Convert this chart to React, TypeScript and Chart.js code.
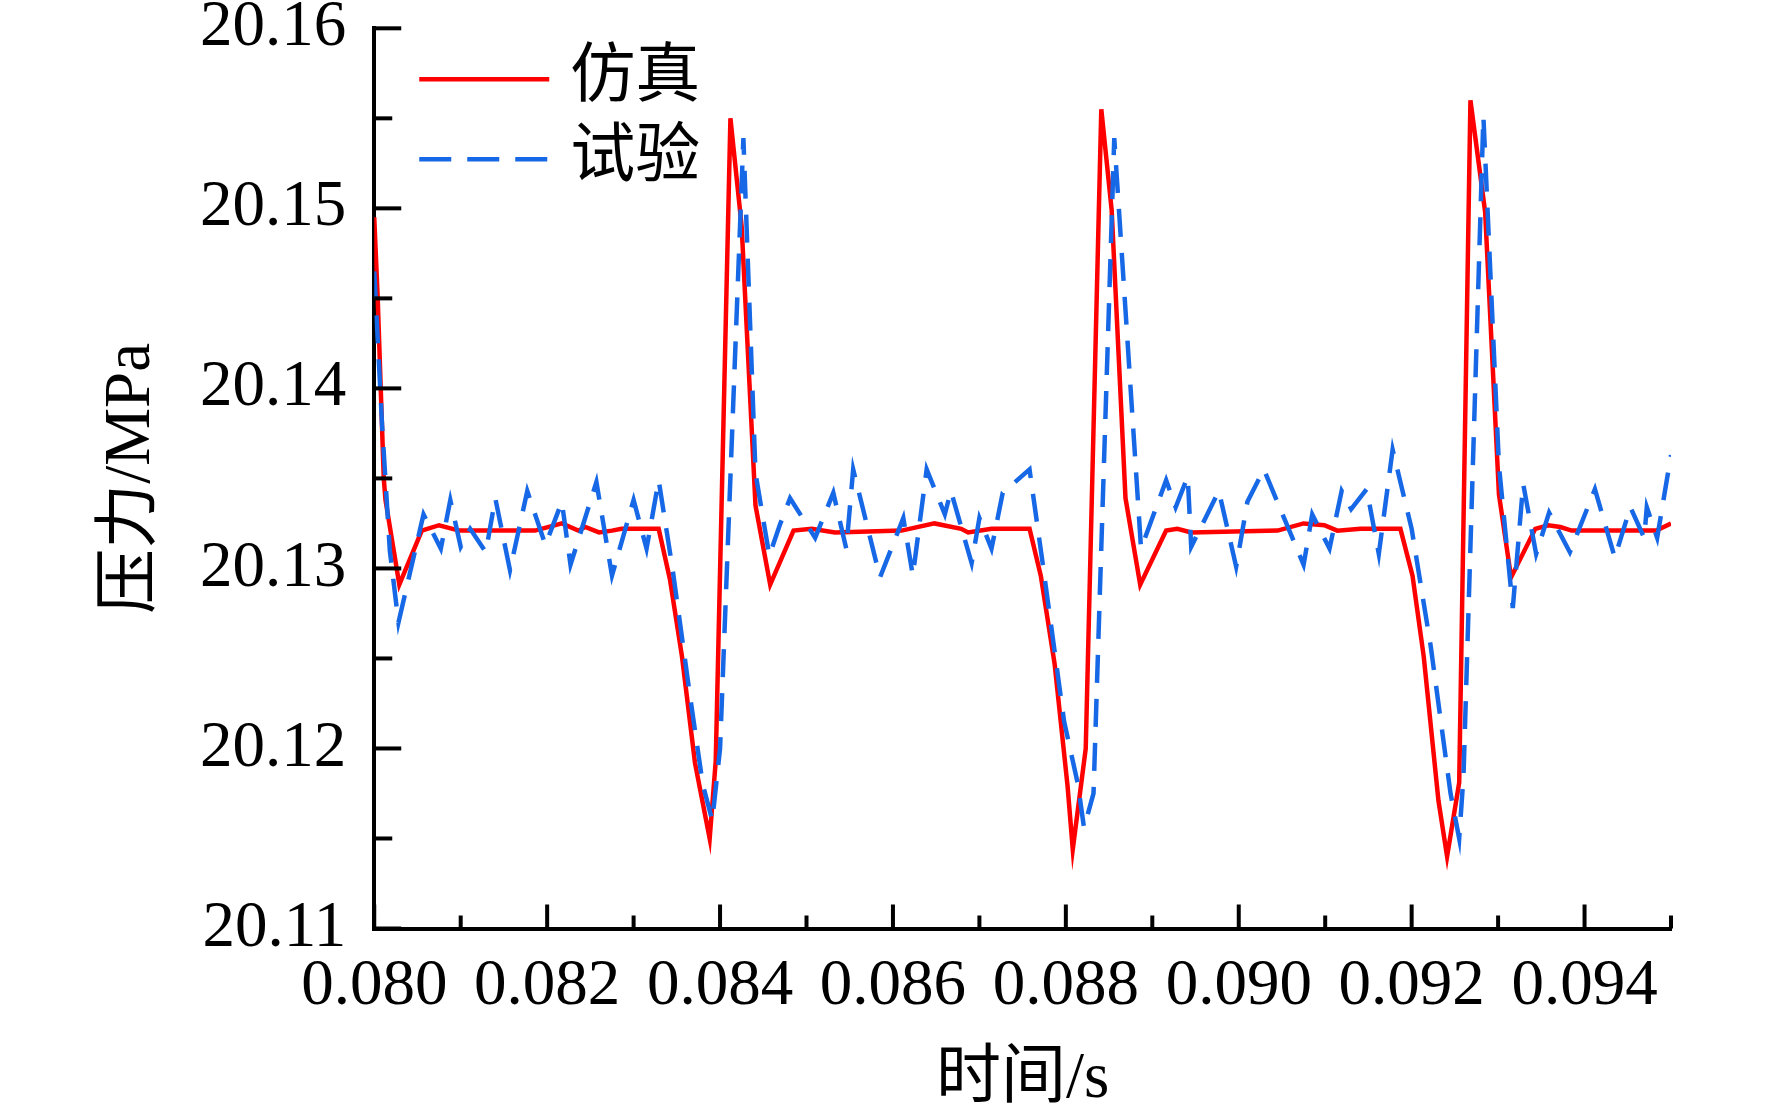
import { useEffect, useRef } from 'react';
import { Chart, registerables } from 'chart.js';

Chart.register(...registerables);

// 仿真 (simulation) – time in s, pressure in MPa
const simT = [
  0.08, 0.08004, 0.08011, 0.08013, 0.08029, 0.08055, 0.08075, 0.08098, 0.08186, 0.08217,
  0.08236, 0.08244, 0.0826, 0.08275, 0.08286, 0.08329, 0.08342, 0.08356, 0.08371, 0.08388,
  0.08395, 0.08412, 0.08425, 0.08441, 0.08458, 0.08485, 0.08506, 0.08533, 0.0861, 0.08648,
  0.08679, 0.08687, 0.08714, 0.08758, 0.08771, 0.08787, 0.08802, 0.08808, 0.08823, 0.08841,
  0.08853, 0.08869, 0.08886, 0.08916, 0.08929, 0.08945, 0.09045, 0.09075, 0.09099, 0.09114,
  0.09141, 0.09187, 0.09201, 0.09214, 0.09231, 0.09241, 0.09255, 0.09268, 0.09285, 0.09301,
  0.09315, 0.09343, 0.09358, 0.09372, 0.09385, 0.09483, 0.095,
];
const simP = [
  20.1495, 20.145, 20.135, 20.1338, 20.1291, 20.1321, 20.1324, 20.1321, 20.1321, 20.1325,
  20.1321, 20.1323, 20.132, 20.1321, 20.1322, 20.1322, 20.1294, 20.1251, 20.1192, 20.115,
  20.1193, 20.155, 20.149, 20.1335, 20.1291, 20.1321, 20.1322, 20.132, 20.1321, 20.1325,
  20.1322, 20.132, 20.1322, 20.1322, 20.1296, 20.1247, 20.1179, 20.1144, 20.12, 20.1555,
  20.1499, 20.1339, 20.1291, 20.1321, 20.1322, 20.132, 20.1321, 20.1325, 20.1324, 20.1321,
  20.1322, 20.1322, 20.1296, 20.1251, 20.1171, 20.114, 20.1181, 20.156, 20.1498, 20.1341,
  20.1295, 20.1322, 20.1324, 20.1323, 20.1321, 20.1321, 20.1325,
];

// 试验 (test)
const expT = [
  0.08, 0.08009, 0.08018, 0.08028, 0.08057, 0.08077, 0.08088, 0.081, 0.08111, 0.08129,
  0.0814, 0.08157, 0.08177, 0.08198, 0.08217, 0.08227, 0.08257, 0.08275, 0.083, 0.08315,
  0.08329, 0.08345, 0.08365, 0.0838, 0.08391, 0.084, 0.08427, 0.08441, 0.08457, 0.08469,
  0.08481, 0.0851, 0.08531, 0.08546, 0.08554, 0.08585, 0.08612, 0.08623, 0.08639, 0.0866,
  0.08667, 0.08691, 0.087, 0.08714, 0.08727, 0.08758, 0.08774, 0.08798, 0.08814, 0.08821,
  0.08832, 0.08856, 0.08887, 0.08916, 0.08927, 0.08941, 0.08945, 0.08977, 0.08997, 0.0901,
  0.09029, 0.09075, 0.09085, 0.09105, 0.09119, 0.0913, 0.09148, 0.09162, 0.09178, 0.092,
  0.09222, 0.09245, 0.09255, 0.0926, 0.09283, 0.09301, 0.09317, 0.09329, 0.09344, 0.09359,
  0.09383, 0.09412, 0.09435, 0.09453, 0.09469, 0.09472, 0.09484, 0.095,
];
const expP = [
  20.1465, 20.138, 20.131, 20.127, 20.133, 20.1311, 20.1338, 20.1312, 20.1322, 20.1309,
  20.1339, 20.1299, 20.1343, 20.1313, 20.1337, 20.1302, 20.1348, 20.1296, 20.1338, 20.1311,
  20.1349, 20.13, 20.123, 20.118, 20.116, 20.12, 20.1539, 20.1353, 20.1307, 20.1324,
  20.1339, 20.1317, 20.1342, 20.1311, 20.1355, 20.1295, 20.1328, 20.1296, 20.1355, 20.133,
  20.1343, 20.1303, 20.1328, 20.1311, 20.1342, 20.1355, 20.13, 20.1215, 20.118, 20.1156,
  20.1175, 20.1539, 20.1311, 20.1349, 20.1334, 20.1351, 20.1312, 20.1343, 20.1301, 20.1337,
  20.1355, 20.1302, 20.133, 20.1311, 20.1343, 20.1333, 20.1344, 20.1308, 20.1366, 20.1322,
  20.1257, 20.1175, 20.115, 20.1185, 20.1551, 20.1357, 20.1278, 20.1347, 20.1308, 20.1331,
  20.1309, 20.1344, 20.1306, 20.1334, 20.1317, 20.1334, 20.1317, 20.1363,
];

const seriesNames = ['仿真', '试验'];
const xTitle = '时间/s';
const yTitle = '压力/MPa';

const FONT = "'Liberation Serif', 'Noto Sans CJK SC', serif";
const RED = '#ff0000';
const BLUE = '#1668e6';

// tick marks pointing into the plot, long on labelled values
const innerTicks = {
  id: 'innerTicks',
  afterDraw(chart: any) {
    const { ctx, chartArea, scales } = chart;
    ctx.save();
    ctx.strokeStyle = '#000';
    ctx.lineWidth = 4;
    scales.y.ticks.forEach((t: any) => {
      const major = Math.round(t.value * 1000) % 10 === 0;
      const y = scales.y.getPixelForValue(t.value);
      ctx.beginPath();
      ctx.moveTo(chartArea.left, y);
      ctx.lineTo(chartArea.left + (major ? 27 : 18), y);
      ctx.stroke();
    });
    scales.x.ticks.forEach((t: any) => {
      const major = Math.round(t.value * 1000) % 2 === 0;
      const x = scales.x.getPixelForValue(t.value);
      ctx.beginPath();
      ctx.moveTo(x, chartArea.bottom);
      ctx.lineTo(x, chartArea.bottom - (major ? 24 : 13));
      ctx.stroke();
    });
    ctx.restore();
  },
};

// legend with line samples in the upper left of the plot
const lineLegend = {
  id: 'lineLegend',
  afterDraw(chart: any) {
    const { ctx, chartArea } = chart;
    const rows = [
      { label: seriesNames[0], color: RED, dash: [] as number[], dy: 51 },
      { label: seriesNames[1], color: BLUE, dash: [32, 16], dy: 131 },
    ];
    ctx.save();
    rows.forEach((r) => {
      const y = chartArea.top + r.dy;
      const x0 = chartArea.left + 45;
      ctx.strokeStyle = r.color;
      ctx.lineWidth = 4.5;
      ctx.setLineDash(r.dash);
      ctx.beginPath();
      ctx.moveTo(x0, y);
      ctx.lineTo(x0 + 130, y);
      ctx.stroke();
      ctx.setLineDash([]);
      ctx.fillStyle = '#000';
      ctx.font = `65px ${FONT}`;
      ctx.textBaseline = 'middle';
      ctx.textAlign = 'left';
      ctx.fillText(r.label, x0 + 151, y);
    });
    ctx.restore();
  },
};

export default function App() {
  const canvasRef = useRef<HTMLCanvasElement | null>(null);

  useEffect(() => {
    if (!canvasRef.current) return;
    const ctx = canvasRef.current.getContext('2d');
    if (!ctx) return;

    const chart = new Chart(ctx, {
      type: 'line',
      data: {
        datasets: [
          {
            label: seriesNames[0],
            data: simT.map((t, i) => ({ x: t, y: simP[i] })),
            borderColor: RED,
            borderWidth: 4.5,
            pointRadius: 0,
            tension: 0,
            order: 1,
          },
          {
            label: seriesNames[1],
            data: expT.map((t, i) => ({ x: t, y: expP[i] })),
            borderColor: BLUE,
            borderWidth: 4.5,
            borderDash: [28, 16],
            pointRadius: 0,
            tension: 0,
            order: 0,
          },
        ],
      },
      options: {
        responsive: false,
        animation: false,
        devicePixelRatio: 1,
        layout: { padding: { left: 0, right: 101, top: 0, bottom: 0 } },
        plugins: {
          legend: { display: false },
          tooltip: { enabled: false },
        },
        scales: {
          x: {
            type: 'linear',
            min: 0.08,
            max: 0.095,
            grid: { display: true, drawOnChartArea: false, drawTicks: false },
            border: { display: true, color: '#000', width: 4 },
            ticks: {
              stepSize: 0.001,
              autoSkip: false,
              maxRotation: 0,
              padding: 19,
              color: '#000',
              font: { family: FONT, size: 65, lineHeight: 1.2 },
              callback: (v: any) => {
                const n = Math.round(Number(v) * 1000);
                return n % 2 === 0 ? (n / 1000).toFixed(3) : '';
              },
            },
            title: {
              display: true,
              text: xTitle,
              color: '#000',
              font: { family: FONT, size: 65, lineHeight: 1.1 },
              padding: { top: 0, bottom: 0 },
            },
          },
          y: {
            type: 'linear',
            min: 20.11,
            max: 20.16,
            grid: { display: true, drawOnChartArea: false, drawTicks: false },
            border: { display: true, color: '#000', width: 4 },
            ticks: {
              stepSize: 0.005,
              autoSkip: false,
              padding: 28,
              color: '#000',
              font: { family: FONT, size: 65, lineHeight: 0.01 },
              callback: (v: any) => {
                const n = Math.round(Number(v) * 1000);
                return n % 10 === 0 ? (n / 1000).toFixed(2) : '';
              },
            },
            title: {
              display: true,
              text: yTitle,
              color: '#000',
              font: { family: FONT, size: 65, lineHeight: 1.2 },
              padding: { top: 93, bottom: 1 },
            },
          },
        },
      },
      plugins: [innerTicks, lineLegend],
    });

    return () => {
      chart.destroy();
    };
  }, []);

  return (
    <div style={{ position: 'absolute', left: 0, top: 0, width: 1772, height: 1116, background: '#fff' }}>
      <canvas ref={canvasRef} width={1772} height={1116} style={{ width: 1772, height: 1116 }}></canvas>
    </div>
  );
}
